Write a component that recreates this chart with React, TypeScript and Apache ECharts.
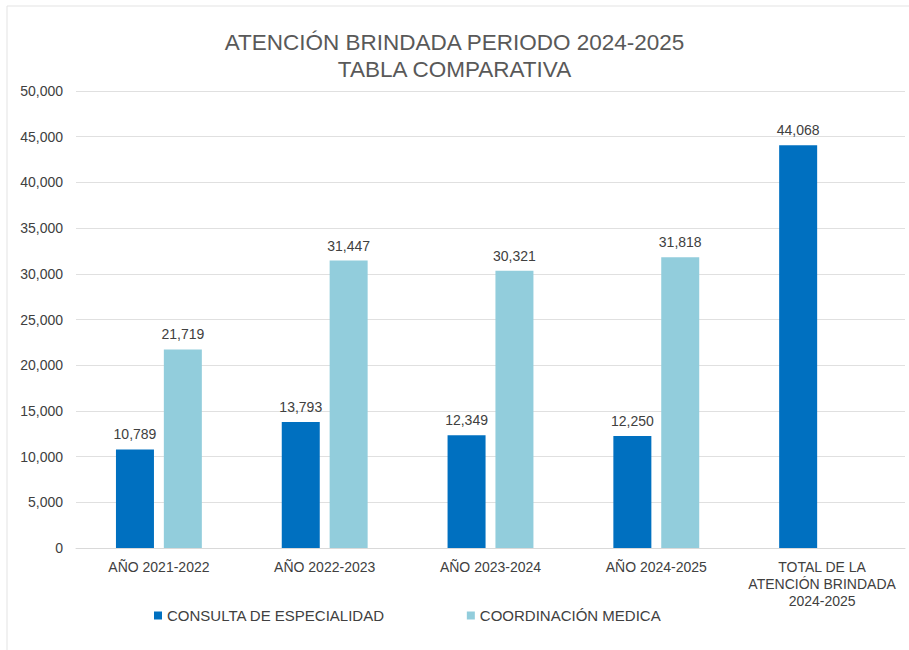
import React, { useEffect, useRef } from "react";
import * as echarts from "echarts";

const categories = [
  "AÑO 2021-2022",
  "AÑO 2022-2023",
  "AÑO 2023-2024",
  "AÑO 2024-2025",
  "TOTAL DE LA\nATENCIÓN BRINDADA\n2024-2025",
];
const consulta = [10789, 13793, 12349, 12250, 44068];
const coordinacion: (number | null)[] = [21719, 31447, 30321, 31818, null];
const seriesNames = ["CONSULTA DE ESPECIALIDAD", "COORDINACIÓN MEDICA"];
const titleText = "ATENCIÓN BRINDADA PERIODO 2024-2025\nTABLA COMPARATIVA";

const FONT = "'Liberation Sans', Arial, sans-serif";

export default function App() {
  const ref = useRef<HTMLDivElement>(null);
  useEffect(() => {
    if (!ref.current) return;
    const chart = echarts.init(ref.current, undefined, { renderer: "svg" });
    const fmt = (v: number) => v.toLocaleString("en-US");
    chart.setOption({
      animation: false,
      backgroundColor: "#ffffff",
      textStyle: { fontFamily: FONT },
      graphic: [
        {
          type: "rect",
          shape: { x: 7, y: 6, width: 920, height: 680 },
          style: { fill: "none", stroke: "#e3e3e3", lineWidth: 1 },
          silent: true,
        },
      ],
      title: {
        text: titleText,
        left: "center",
        top: 24,
        textStyle: {
          fontFamily: FONT,
          fontSize: 22.5,
          fontWeight: "normal",
          color: "#595959",
          lineHeight: 27,
        },
      },
      legend: {
        data: seriesNames,
        left: 149,
        top: 603,
        icon: "rect",
        itemWidth: 8,
        itemHeight: 8,
        itemGap: 82,
        textStyle: { fontFamily: FONT, fontSize: 15, color: "#404040" },
      },
      grid: { left: 76, right: 4, top: 91, bottom: 102, containLabel: false },
      xAxis: {
        type: "category",
        data: categories,
        axisLine: { lineStyle: { color: "#d9d9d9" } },
        axisTick: { show: false },
        axisLabel: {
          interval: 0,
          fontFamily: FONT,
          fontSize: 14,
          color: "#404040",
          lineHeight: 17,
          margin: 10,
        },
      },
      yAxis: {
        type: "value",
        min: 0,
        max: 50000,
        interval: 5000,
        axisLine: { show: false },
        axisTick: { show: false },
        splitLine: { lineStyle: { color: "#e0e0e0" } },
        axisLabel: {
          formatter: (v: number) => fmt(v),
          fontFamily: FONT,
          fontSize: 14,
          color: "#404040",
          margin: 13,
        },
      },
      series: [
        {
          name: seriesNames[0],
          type: "bar",
          data: consulta,
          barWidth: 38,
          barGap: "26%",
          itemStyle: { color: "#0070C0" },
          label: {
            show: true,
            position: "top",
            distance: 8,
            formatter: (p: any) => fmt(p.value),
            fontFamily: FONT,
            fontSize: 14,
            color: "#404040",
          },
        },
        {
          name: seriesNames[1],
          type: "bar",
          data: coordinacion,
          barWidth: 38,
          itemStyle: { color: "#92CDDC" },
          label: {
            show: true,
            position: "top",
            distance: 8,
            formatter: (p: any) => (p.value == null ? "" : fmt(p.value)),
            fontFamily: FONT,
            fontSize: 14,
            color: "#404040",
          },
        },
      ],
    });
    return () => chart.dispose();
  }, []);
  return <div ref={ref} style={{ width: 909, height: 650, position: "absolute", left: 0, top: 0 }} />;
}
